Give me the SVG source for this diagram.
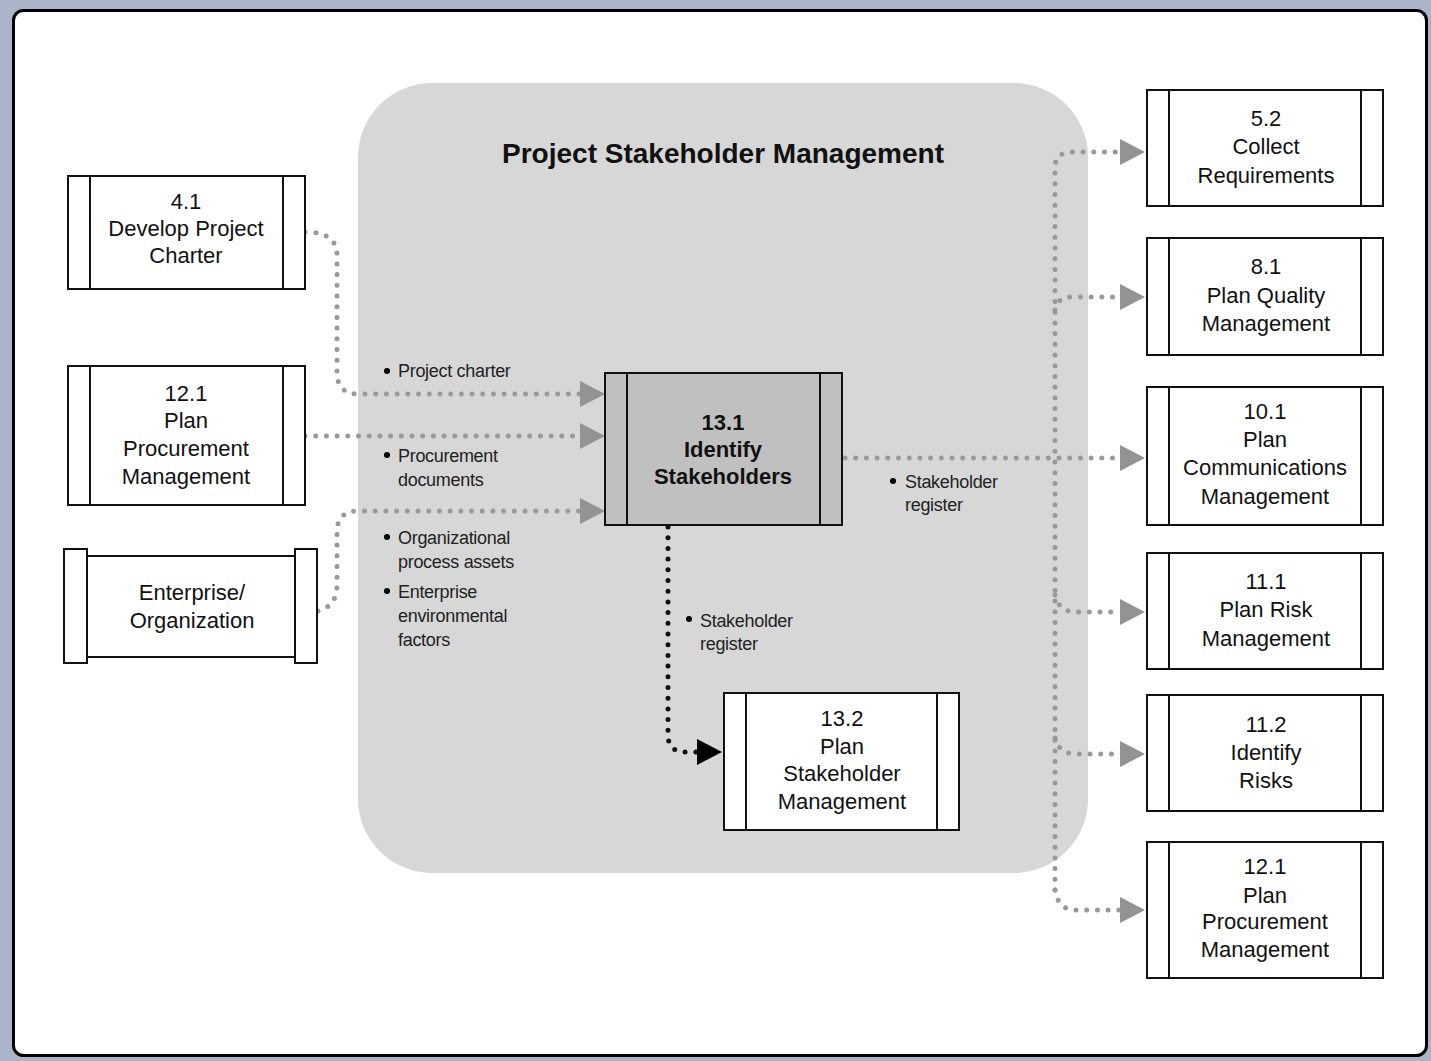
<svg xmlns="http://www.w3.org/2000/svg" width="1431" height="1061" viewBox="0 0 1431 1061">
<style>
.box{fill:#fff;stroke:#111;stroke-width:2}
.sel{fill:#c0c0c0;stroke:#111;stroke-width:2}
.bar{stroke:#111;stroke-width:2}
.t{font-family:"Liberation Sans",Arial,sans-serif;font-size:22px;fill:#111;text-anchor:middle}
.tb{font-family:"Liberation Sans",Arial,sans-serif;font-size:22px;font-weight:bold;fill:#111;text-anchor:middle}
.lbl{font-family:"Liberation Sans",Arial,sans-serif;font-size:18px;fill:#222;letter-spacing:-0.3px}
.dot{fill:none;stroke:#999;stroke-width:5;stroke-linecap:round;stroke-dasharray:0 10.7}
.dotk{fill:none;stroke:#111;stroke-width:5;stroke-linecap:round;stroke-dasharray:0 10.7}
</style>
<defs>
<marker id="ag" markerUnits="userSpaceOnUse" markerWidth="26" markerHeight="26" viewBox="0 0 26 26" refX="0" refY="13" orient="auto"><path d="M0,0 L25,13 L0,26 z" fill="#939393"/></marker>
<marker id="ak" markerUnits="userSpaceOnUse" markerWidth="26" markerHeight="26" viewBox="0 0 26 26" refX="0" refY="13" orient="auto"><path d="M0,0 L25,13 L0,26 z" fill="#000"/></marker>
</defs>
<rect x="0" y="0" width="1431" height="1061" fill="#aab5ca"/>
<rect x="13.5" y="10.5" width="1413" height="1045" rx="10" fill="#fff" stroke="#000" stroke-width="3"/>
<rect x="358" y="83" width="730" height="790" rx="74" fill="#d7d7d7"/>
<text x="723" y="163" font-family="'Liberation Sans',Arial,sans-serif" font-size="28" font-weight="bold" fill="#111" text-anchor="middle">Project Stakeholder Management</text>

<g id="connectors">
<path class="dot" d="M305,232 Q337,232 337,255 L337,372 Q337,394 358,394 L580,394" marker-end="url(#ag)"/>
<path class="dot" d="M305,436 L580,436" marker-end="url(#ag)"/>
<path class="dot" d="M318,611 Q337,606 337,585 L337,532 Q337,511 358,511 L580,511" marker-end="url(#ag)"/>
<path class="dotk" d="M668,527 L668,735 Q668,752 686,752 L697,752" marker-end="url(#ak)"/>
<path class="dot" d="M845,458 L1120,458" marker-end="url(#ag)"/>
<path class="dot" d="M1055,890 L1055,168 Q1055,152 1072,152 L1120,152" marker-end="url(#ag)"/>
<path class="dot" d="M1055,310 Q1057,297 1072,297 L1120,297" marker-end="url(#ag)"/>
<path class="dot" d="M1055,595 Q1059,612 1076,612 L1120,612" marker-end="url(#ag)"/>
<path class="dot" d="M1055,738 Q1059,754 1076,754 L1120,754" marker-end="url(#ag)"/>
<path class="dot" d="M1055,890 Q1058,910 1076,910 L1120,910" marker-end="url(#ag)"/>
</g>

<g id="labels">
<circle cx="387" cy="371" r="3" fill="#000"/>
<text class="lbl" x="398" y="377">Project charter</text>
<circle cx="387" cy="455" r="3" fill="#000"/>
<text class="lbl" x="398" y="462">Procurement</text>
<text class="lbl" x="398" y="486">documents</text>
<circle cx="387" cy="537" r="3" fill="#000"/>
<text class="lbl" x="398" y="544">Organizational</text>
<text class="lbl" x="398" y="568">process assets</text>
<circle cx="387" cy="591" r="3" fill="#000"/>
<text class="lbl" x="398" y="598">Enterprise</text>
<text class="lbl" x="398" y="622">environmental</text>
<text class="lbl" x="398" y="646">factors</text>
<circle cx="893" cy="481" r="3" fill="#000"/>
<text class="lbl" x="905" y="488">Stakeholder</text>
<text class="lbl" x="905" y="511">register</text>
<circle cx="689" cy="619" r="3" fill="#000"/>
<text class="lbl" x="700" y="627">Stakeholder</text>
<text class="lbl" x="700" y="650">register</text>
</g>

<g id="n41">
<rect class="box" x="68" y="176" width="237" height="113"/>
<line class="bar" x1="90" y1="176" x2="90" y2="289"/><line class="bar" x1="283" y1="176" x2="283" y2="289"/>
<text class="t" x="186" y="209">4.1</text><text class="t" x="186" y="236">Develop Project</text><text class="t" x="186" y="263">Charter</text>
</g>
<g id="n121a">
<rect class="box" x="68" y="366" width="237" height="139"/>
<line class="bar" x1="90" y1="366" x2="90" y2="505"/><line class="bar" x1="283" y1="366" x2="283" y2="505"/>
<text class="t" x="186" y="401">12.1</text><text class="t" x="186" y="428">Plan</text><text class="t" x="186" y="456">Procurement</text><text class="t" x="186" y="484">Management</text>
</g>
<g id="nent">
<rect class="box" x="87" y="556" width="208" height="101"/>
<rect class="box" x="64" y="549" width="23" height="114"/>
<rect class="box" x="295" y="549" width="22" height="114"/>
<text class="t" x="192" y="600">Enterprise/</text><text class="t" x="192" y="628">Organization</text>
</g>
<g id="n131">
<rect class="sel" x="605" y="373" width="237" height="152"/>
<line class="bar" x1="627" y1="373" x2="627" y2="525"/><line class="bar" x1="820" y1="373" x2="820" y2="525"/>
<text class="tb" x="723" y="430">13.1</text><text class="tb" x="723" y="457">Identify</text><text class="tb" x="723" y="484">Stakeholders</text>
</g>
<g id="n132">
<rect class="box" x="724" y="693" width="235" height="137"/>
<line class="bar" x1="746" y1="693" x2="746" y2="830"/><line class="bar" x1="937" y1="693" x2="937" y2="830"/>
<text class="t" x="842" y="726">13.2</text><text class="t" x="842" y="754">Plan</text><text class="t" x="842" y="781">Stakeholder</text><text class="t" x="842" y="809">Management</text>
</g>
<g id="n52">
<rect class="box" x="1147" y="90" width="236" height="116"/>
<line class="bar" x1="1169" y1="90" x2="1169" y2="206"/><line class="bar" x1="1361" y1="90" x2="1361" y2="206"/>
<text class="t" x="1266" y="126">5.2</text><text class="t" x="1266" y="154">Collect</text><text class="t" x="1266" y="183">Requirements</text>
</g>
<g id="n81">
<rect class="box" x="1147" y="238" width="236" height="117"/>
<line class="bar" x1="1169" y1="238" x2="1169" y2="355"/><line class="bar" x1="1361" y1="238" x2="1361" y2="355"/>
<text class="t" x="1266" y="274">8.1</text><text class="t" x="1266" y="303">Plan Quality</text><text class="t" x="1266" y="331">Management</text>
</g>
<g id="n101">
<rect class="box" x="1147" y="387" width="236" height="138"/>
<line class="bar" x1="1169" y1="387" x2="1169" y2="525"/><line class="bar" x1="1361" y1="387" x2="1361" y2="525"/>
<text class="t" x="1265" y="419">10.1</text><text class="t" x="1265" y="447">Plan</text><text class="t" x="1265" y="475">Communications</text><text class="t" x="1265" y="504">Management</text>
</g>
<g id="n111">
<rect class="box" x="1147" y="553" width="236" height="116"/>
<line class="bar" x1="1169" y1="553" x2="1169" y2="669"/><line class="bar" x1="1361" y1="553" x2="1361" y2="669"/>
<text class="t" x="1266" y="589">11.1</text><text class="t" x="1266" y="617">Plan Risk</text><text class="t" x="1266" y="646">Management</text>
</g>
<g id="n112">
<rect class="box" x="1147" y="695" width="236" height="116"/>
<line class="bar" x1="1169" y1="695" x2="1169" y2="811"/><line class="bar" x1="1361" y1="695" x2="1361" y2="811"/>
<text class="t" x="1266" y="732">11.2</text><text class="t" x="1266" y="760">Identify</text><text class="t" x="1266" y="788">Risks</text>
</g>
<g id="n121b">
<rect class="box" x="1147" y="842" width="236" height="136"/>
<line class="bar" x1="1169" y1="842" x2="1169" y2="978"/><line class="bar" x1="1361" y1="842" x2="1361" y2="978"/>
<text class="t" x="1265" y="874">12.1</text><text class="t" x="1265" y="903">Plan</text><text class="t" x="1265" y="929">Procurement</text><text class="t" x="1265" y="957">Management</text>
</g>
</svg>
